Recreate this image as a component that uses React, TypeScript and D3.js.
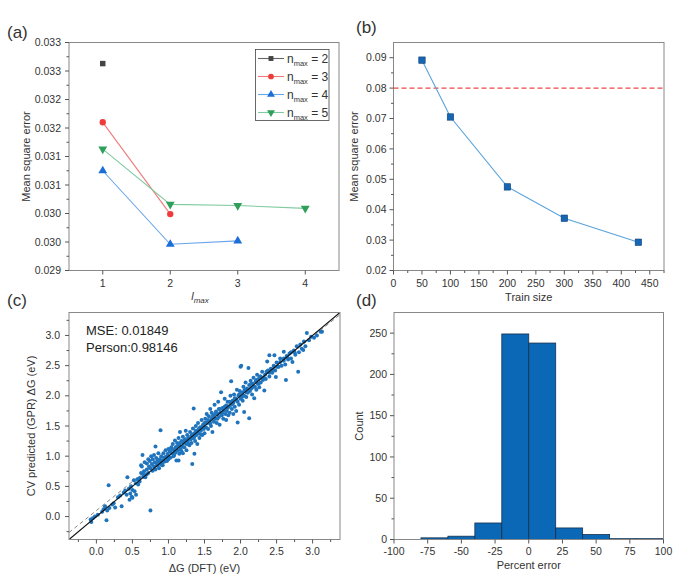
import React from "react";
import * as d3 from "d3";

// ---------- Panel (a) data ----------
const lmax = [1, 2, 3, 4];
const nmax2 = [0.03263];
const nmax3 = [0.0316, 0.02999];
const nmax4 = [0.03075, 0.02946, 0.02952];
const nmax5 = [0.03113, 0.03016, 0.03014, 0.03009];
const aTickValues = [0.029, 0.0295, 0.03, 0.0305, 0.031, 0.0315, 0.032, 0.0325, 0.033];
const aTickLabels = ["0.029", "0.030", "0.030", "0.031", "0.031", "0.032", "0.032", "0.033", "0.033"];

// ---------- Panel (b) data ----------
const trainSize = [50, 100, 200, 300, 430];
const trainMse = [0.0892, 0.0705, 0.0475, 0.0372, 0.0293];
const thresholdMse = 0.08;

// ---------- Panel (c) data ----------
const scatterPts: [number, number][] = [
  [-0.08,-0.05],[-0.07,-0.09],[-0.05,-0.03],[-0.02,0.0],[0.02,0.03],[0.08,0.08],[0.1,0.12],[0.12,0.17],[0.14,-0.06],[0.15,0.1],[0.17,0.52],[0.18,0.14],[0.22,0.2],[0.24,0.22],[0.26,0.15],[0.3,0.32],[0.33,0.35],[0.35,0.17],[0.38,0.4],[0.4,0.43],[0.42,0.36],[0.43,0.65],[0.45,0.46],[0.46,0.28],[0.47,0.38],[0.48,0.5],[0.49,0.33],[0.5,0.31],[0.5,0.44],[0.52,0.6],[0.53,0.42],[0.55,0.36],[0.55,0.55],
  [0.57,0.62],[0.58,0.53],[0.6,0.58],[0.62,0.72],[0.62,0.85],[0.63,0.83],[0.64,1.02],[0.65,0.7],[0.66,0.75],[0.67,0.9],[0.68,0.65],[0.7,0.78],[0.7,0.88],[0.72,0.72],[0.72,0.95],[0.73,0.83],[0.74,0.92],[0.75,0.1],[0.75,0.8],[0.76,1.0],[0.77,0.87],[0.78,0.76],[0.78,0.95],[0.8,0.83],[0.8,1.02],[0.81,0.9],[0.82,0.78],[0.83,0.97],[0.84,0.86],[0.85,0.92],[0.86,1.05],[0.87,0.8],[0.88,0.95],[0.89,0.88],[0.9,1.0],[0.91,0.93],[0.92,0.85],[0.93,1.05],[0.94,0.97],[0.95,0.91],[0.96,1.1],[0.97,0.99],[0.98,0.92],[0.99,1.04],[1.0,1.12],[1.0,0.95],[0.89,1.43],[0.82,1.16],[1.14,0.93],[1.33,0.87],[1.36,1.04],
  [1.02,1.08],[1.03,0.98],[1.04,1.15],[1.05,1.05],[1.06,1.2],[1.07,1.0],[1.08,1.1],[1.09,1.26],[1.1,1.06],[1.1,1.15],[1.11,0.93],[1.12,1.22],[1.13,1.1],[1.14,1.3],[1.15,1.04],[1.15,1.18],[1.16,1.4],[1.17,1.12],[1.18,1.25],[1.19,1.16],[1.2,1.05],[1.2,1.32],[1.21,1.22],[1.22,1.15],[1.23,1.28],[1.24,1.42],[1.25,1.2],[1.25,1.1],[1.26,1.35],[1.27,1.25],[1.28,1.3],[1.29,1.18],[1.3,1.4],[1.31,1.28],[1.32,1.22],[1.33,1.36],[1.34,1.46],[1.35,1.3],[1.36,1.38],[1.37,1.25],[1.38,1.5],[1.39,1.35],[1.4,1.42],[1.4,1.2],[1.41,1.55],[1.42,1.38],[1.43,1.3],[1.44,1.48],[1.45,1.42],[1.46,1.6],[1.47,1.35],[1.48,1.5],[1.49,1.45],[1.5,1.55],[1.5,1.38],[1.35,1.79],
  [1.51,1.62],[1.52,1.48],[1.53,1.7],[1.54,1.55],[1.55,1.45],[1.56,1.66],[1.57,1.58],[1.58,1.78],[1.59,1.5],[1.6,1.62],[1.6,1.72],[1.61,1.4],[1.62,1.68],[1.63,1.57],[1.64,1.85],[1.65,1.62],[1.66,1.74],[1.67,1.55],[1.68,1.7],[1.69,1.9],[1.7,1.65],[1.7,1.78],[1.71,1.52],[1.72,1.72],[1.73,2.06],[1.74,1.68],[1.75,1.8],[1.76,1.62],[1.77,1.76],[1.78,1.95],[1.79,1.7],[1.8,1.84],[1.8,1.6],[1.81,1.75],[1.82,1.9],[1.83,1.68],[1.84,1.82],[1.85,1.72],[1.86,2.0],[1.87,2.24],[1.87,1.85],[1.88,1.78],[1.89,1.92],[1.9,1.7],[1.9,1.88],[1.91,2.02],[1.92,1.82],[1.93,1.95],[1.94,1.75],[1.95,2.1],[1.96,1.56],[1.96,1.9],[1.97,2.0],[1.98,1.85],[1.99,2.08],[2.0,2.48],[2.0,1.95],
  [2.01,2.5],[2.02,2.05],[2.03,1.92],[2.04,2.15],[2.05,1.73],[2.05,2.0],[2.06,2.1],[2.07,2.22],[2.08,1.98],[2.09,2.12],[2.1,2.05],[2.11,2.46],[2.12,1.63],[2.12,2.18],[2.13,2.08],[2.14,2.25],[2.15,2.12],[2.16,2.02],[2.17,2.2],[2.18,2.3],[2.19,1.96],[2.2,2.15],[2.21,2.24],[2.22,2.1],[2.23,2.35],[2.24,2.2],[2.25,2.28],[2.26,2.14],[2.27,2.32],[2.28,2.22],[2.3,2.4],[2.31,2.26],[2.33,2.09],[2.34,2.35],[2.35,2.28],[2.37,2.57],[2.38,2.42],[2.4,2.67],[2.4,2.32],[2.42,2.45],[2.44,2.38],[2.46,2.5],[2.47,2.67],[2.48,2.42],[2.49,2.31],[2.5,2.55],
  [2.52,2.48],[2.53,2.48],[2.55,2.62],[2.57,2.5],[2.6,2.73],[2.6,2.58],[2.62,2.52],[2.63,2.26],[2.64,2.66],[2.66,2.6],[2.68,2.7],[2.7,2.62],[2.72,2.56],[2.74,2.75],[2.76,2.68],[2.78,2.82],[2.8,2.4],[2.81,2.72],[2.83,2.85],[2.85,2.78],[2.87,2.76],[2.88,2.9],[2.9,2.82],[2.92,3.04],[2.95,2.92],[2.98,2.98],[3.02,2.96],[3.06,3.0],[3.11,3.06],[3.13,3.06],
  [1.05,1.12],[1.08,1.02],[1.12,1.16],[1.16,1.22],[1.18,1.08],[1.22,1.26],[1.26,1.28],[1.28,1.2],[1.32,1.34],[1.36,1.32],[1.38,1.42],[1.42,1.45],[1.45,1.36],[1.48,1.52],[1.52,1.56],[1.55,1.6],[1.58,1.54],[1.62,1.65],[1.65,1.7],[1.68,1.62],[1.72,1.78],[1.75,1.72],[1.78,1.82],[1.82,1.8],[1.85,1.9],[1.88,1.86],[1.92,1.96],[1.95,1.92],[1.98,2.02],[2.02,1.98],[2.05,2.08],[2.08,2.06],[2.12,2.1],[2.15,2.2],[2.18,2.15],[2.22,2.26],[2.25,2.2],[2.28,2.32],[2.32,2.3],[2.36,2.4],[2.4,2.38],[2.45,2.44],[2.5,2.48],[2.55,2.56],[2.6,2.62],[2.65,2.64],[2.7,2.72],[2.75,2.72],[0.85,0.84],[0.88,0.9],[0.92,0.9],[0.95,0.98],[0.98,1.0],[0.7,0.7],[0.65,0.66],[0.6,0.64],[0.9,0.86],[1.0,1.0]
];
const fitSlope = 0.96;
const fitIntercept = 0.1;
const mseText = "MSE: 0.01849";
const personText = "Person:0.98146";

// ---------- Panel (d) data ----------
const binStarts = [-80, -60, -40, -20, 0, 20, 40, 60, 80];
const binWidth = 20;
const binCounts = [2, 4, 20, 249, 238, 14, 6, 1, 1];

const FONT = "'Liberation Sans', Arial, Helvetica, sans-serif";
const TXT = "#333";
const AX = "#555";
const FRAME = "#888";

type AxisProps = {
  scale: any; ticks: number[]; labels?: string[]; minor?: number[];
  orient: "left" | "bottom"; pos: number; fmt?: (v: number) => string; gap?: number;
};
function Axis({ scale, ticks, labels, minor = [], orient, pos, fmt = (v) => String(v), gap = 4 }: AxisProps) {
  const out: any[] = [];
  ticks.forEach((t, i) => {
    const p = scale(t);
    const lab = labels ? labels[i] : fmt(t);
    if (orient === "left") {
      out.push(<line key={"t" + i} x1={pos - 4} x2={pos} y1={p} y2={p} stroke={AX} />);
      out.push(<text key={"l" + i} x={pos - 4 - gap} y={p} dy="0.35em" textAnchor="end" fontSize={10.5} fill={TXT}>{lab}</text>);
    } else {
      out.push(<line key={"t" + i} y1={pos} y2={pos + 4} x1={p} x2={p} stroke={AX} />);
      out.push(<text key={"l" + i} y={pos + 4 + gap + 8} x={p} textAnchor="middle" fontSize={10.5} fill={TXT}>{lab}</text>);
    }
  });
  minor.forEach((t, i) => {
    const p = scale(t);
    if (orient === "left") out.push(<line key={"m" + i} x1={pos - 2.5} x2={pos} y1={p} y2={p} stroke={AX} />);
    else out.push(<line key={"m" + i} y1={pos} y2={pos + 2.5} x1={p} x2={p} stroke={AX} />);
  });
  return <g>{out}</g>;
}

function Frame({ x0, x1, y0, y1 }: { x0: number; x1: number; y0: number; y1: number }) {
  return <rect x={x0} y={y0} width={x1 - x0} height={y1 - y0} fill="none" stroke={FRAME} strokeWidth={1} />;
}

const sym = (type: any, size: number) => d3.symbol().type(type).size(size)() as string;

export default function App() {
  // ----- Panel A -----
  const A = { x0: 69, x1: 339, y0: 42.5, y1: 270.5 };
  const ax = d3.scaleLinear().domain([0.5, 4.5]).range([A.x0, A.x1]);
  const ay = d3.scaleLinear().domain([0.029, 0.033]).range([A.y1, A.y0]);
  const aMinor = d3.range(0, 8).map((i) => 0.029 + 0.00025 + i * 0.0005);
  const aSeries = [
    { vals: nmax2, marker: "#444", line: "#666", type: d3.symbolSquare, size: 30, rot: 0, label: "2" },
    { vals: nmax3, marker: "#ee3b3b", line: "#f07a7a", type: d3.symbolCircle, size: 32, rot: 0, label: "3" },
    { vals: nmax4, marker: "#1d6fd8", line: "#6aa6ea", type: d3.symbolTriangle, size: 34, rot: 0, label: "4" },
    { vals: nmax5, marker: "#2f9f5a", line: "#80caa0", type: d3.symbolTriangle, size: 34, rot: 180, label: "5" },
  ];
  const aLine = d3.line<number>().x((_, i) => ax(lmax[i])).y((v) => ay(v));

  // ----- Panel B -----
  const B = { x0: 393.5, x1: 664, y0: 42.5, y1: 270.5 };
  const bx = d3.scaleLinear().domain([0, 475]).range([B.x0, B.x1]);
  const by = d3.scaleLinear().domain([0.02, 0.095]).range([B.y1, B.y0]);
  const bLine = d3.line<number>().x((_, i) => bx(trainSize[i])).y((v) => by(v));

  // ----- Panel C -----
  const C = { x0: 69, x1: 340, y0: 312.5, y1: 539.5 };
  const cx = d3.scaleLinear().domain([-0.38, 3.38]).range([C.x0, C.x1]);
  const cy = d3.scaleLinear().domain([-0.38, 3.38]).range([C.y1, C.y0]);
  const cMajor = [0, 0.5, 1, 1.5, 2, 2.5, 3];
  const cMinorX = [-0.25, 0.25, 0.75, 1.25, 1.75, 2.25, 2.75, 3.25];

  // ----- Panel D -----
  const D = { x0: 394, x1: 663.5, y0: 312.5, y1: 539.5 };
  const dx = d3.scaleLinear().domain([-100, 100]).range([D.x0, D.x1]);
  const dy = d3.scaleLinear().domain([0, 275]).range([D.y1, D.y0]);

  const lo = -0.38, hi = 3.38;

  return (
    <svg width={681} height={585} style={{ position: "absolute", left: 0, top: 0, background: "#fff" }} fontFamily={FONT}>
      <rect width={681} height={585} fill="#fff" />
      {/* ================= (a) ================= */}
      <text x={7} y={38} fontSize={17} fill={TXT}>(a)</text>
      <Frame {...A} />
      <Axis scale={ay} ticks={aTickValues} labels={aTickLabels} minor={aMinor} orient="left" pos={A.x0} />
      <Axis scale={ax} ticks={lmax} orient="bottom" pos={A.y1} />
      <text transform={`translate(30,${(A.y0 + A.y1) / 2}) rotate(-90)`} textAnchor="middle" fontSize={11} fill={TXT}>Mean square error</text>
      <text x={200} y={300} textAnchor="middle" fontSize={11} fill={TXT} fontStyle="italic">l<tspan fontSize={8} dy={3}>max</tspan></text>
      {aSeries.map((s, si) => (
        <g key={si}>
          {s.vals.length > 1 && <path d={aLine(s.vals) as string} fill="none" stroke={s.line} strokeWidth={1.1} />}
          {s.vals.map((v, i) => (
            <path key={i} d={sym(s.type, s.size)} transform={`translate(${ax(lmax[i])},${ay(v)}) rotate(${s.rot})`} fill={s.marker} />
          ))}
        </g>
      ))}
      <g>
        <rect x={255.5} y={49.5} width={73.5} height={71} fill="#fff" stroke="#444" strokeWidth={0.8} />
        {aSeries.map((s, i) => {
          const yy = 58.5 + i * 18;
          return (
            <g key={i}>
              <line x1={258} x2={284} y1={yy} y2={yy} stroke={s.line} strokeWidth={1.1} />
              <path d={sym(s.type, s.size * 0.8)} transform={`translate(271,${yy}) rotate(${s.rot})`} fill={s.marker} />
              <text x={287} y={yy + 4} fontSize={12} fill={TXT}>n<tspan fontSize={7.5} dy={3}>max</tspan><tspan dy={-3}>{" = " + s.label}</tspan></text>
            </g>
          );
        })}
      </g>

      {/* ================= (b) ================= */}
      <text x={356} y={33} fontSize={17} fill={TXT}>(b)</text>
      <Frame {...B} />
      <Axis scale={by} ticks={[0.02, 0.03, 0.04, 0.05, 0.06, 0.07, 0.08, 0.09]} minor={[0.025, 0.035, 0.045, 0.055, 0.065, 0.075, 0.085]} orient="left" pos={B.x0} fmt={d3.format(".2f")} gap={3} />
      <Axis scale={bx} ticks={d3.range(0, 451, 50)} minor={d3.range(25, 476, 50)} orient="bottom" pos={B.y1} />
      <text transform={`translate(358,${(B.y0 + B.y1) / 2}) rotate(-90)`} textAnchor="middle" fontSize={11} fill={TXT}>Mean square error</text>
      <text x={(B.x0 + B.x1) / 2} y={301} textAnchor="middle" fontSize={11} fill={TXT}>Train size</text>
      <line x1={B.x0} x2={B.x1} y1={by(thresholdMse)} y2={by(thresholdMse)} stroke="#ec4a4a" strokeWidth={1.2} strokeDasharray="5,3" />
      <path d={bLine(trainMse) as string} fill="none" stroke="#5aa3dc" strokeWidth={1.1} />
      {trainMse.map((v, i) => (
        <rect key={i} x={bx(trainSize[i]) - 3.2} y={by(v) - 3.2} width={6.4} height={6.4} fill="#1666b4" stroke="#0d3f75" strokeWidth={0.6} />
      ))}

      {/* ================= (c) ================= */}
      <text x={7} y={306} fontSize={17} fill={TXT}>(c)</text>
      <defs>
        <clipPath id="clipC"><rect x={C.x0} y={C.y0} width={C.x1 - C.x0} height={C.y1 - C.y0} /></clipPath>
      </defs>
      <g clipPath="url(#clipC)">
        <line x1={cx(lo)} y1={cy(fitSlope * lo + fitIntercept)} x2={cx(hi)} y2={cy(fitSlope * hi + fitIntercept)} stroke="#888" strokeWidth={1} strokeDasharray="4,3" />
        {scatterPts.map((p, i) => (
          <circle key={i} cx={cx(p[0])} cy={cy(p[1])} r={2} fill="#1f74bd" />
        ))}
        <line x1={cx(lo)} y1={cy(lo)} x2={cx(hi)} y2={cy(hi)} stroke="#111" strokeWidth={1.1} />
      </g>
      <Frame {...C} />
      <Axis scale={cy} ticks={cMajor} minor={cMinorX} orient="left" pos={C.x0} fmt={d3.format(".1f")} gap={5} />
      <Axis scale={cx} ticks={cMajor} minor={cMinorX} orient="bottom" pos={C.y1} fmt={d3.format(".1f")} gap={3} />
      <text transform={`translate(35,${(C.y0 + C.y1) / 2}) rotate(-90)`} textAnchor="middle" fontSize={11} fill={TXT}>CV predicted (GPR) ΔG (eV)</text>
      <text x={(C.x0 + C.x1) / 2} y={572} textAnchor="middle" fontSize={11} fill={TXT}>ΔG (DFT) (eV)</text>
      <text x={86} y={335} fontSize={13} fill="#222">{mseText}</text>
      <text x={86} y={351.5} fontSize={13} fill="#222">{personText}</text>

      {/* ================= (d) ================= */}
      <text x={356} y={306} fontSize={17} fill={TXT}>(d)</text>
      {binCounts.map((c, i) => (
        <rect key={i} x={dx(binStarts[i])} y={dy(c)} width={dx(binStarts[i] + binWidth) - dx(binStarts[i])} height={D.y1 - dy(c)} fill="#0a68b6" stroke="#17304d" strokeWidth={0.8} />
      ))}
      <Frame {...D} />
      <Axis scale={dy} ticks={[0, 50, 100, 150, 200, 250]} minor={[25, 75, 125, 175, 225]} orient="left" pos={D.x0} gap={3} />
      <Axis scale={dx} ticks={d3.range(-100, 101, 25)} orient="bottom" pos={D.y1} gap={3.5} />
      <text transform={`translate(363,${(D.y0 + D.y1) / 2}) rotate(-90)`} textAnchor="middle" fontSize={11} fill={TXT}>Count</text>
      <text x={(D.x0 + D.x1) / 2} y={569} textAnchor="middle" fontSize={11} fill={TXT}>Percent error</text>
    </svg>
  );
}
